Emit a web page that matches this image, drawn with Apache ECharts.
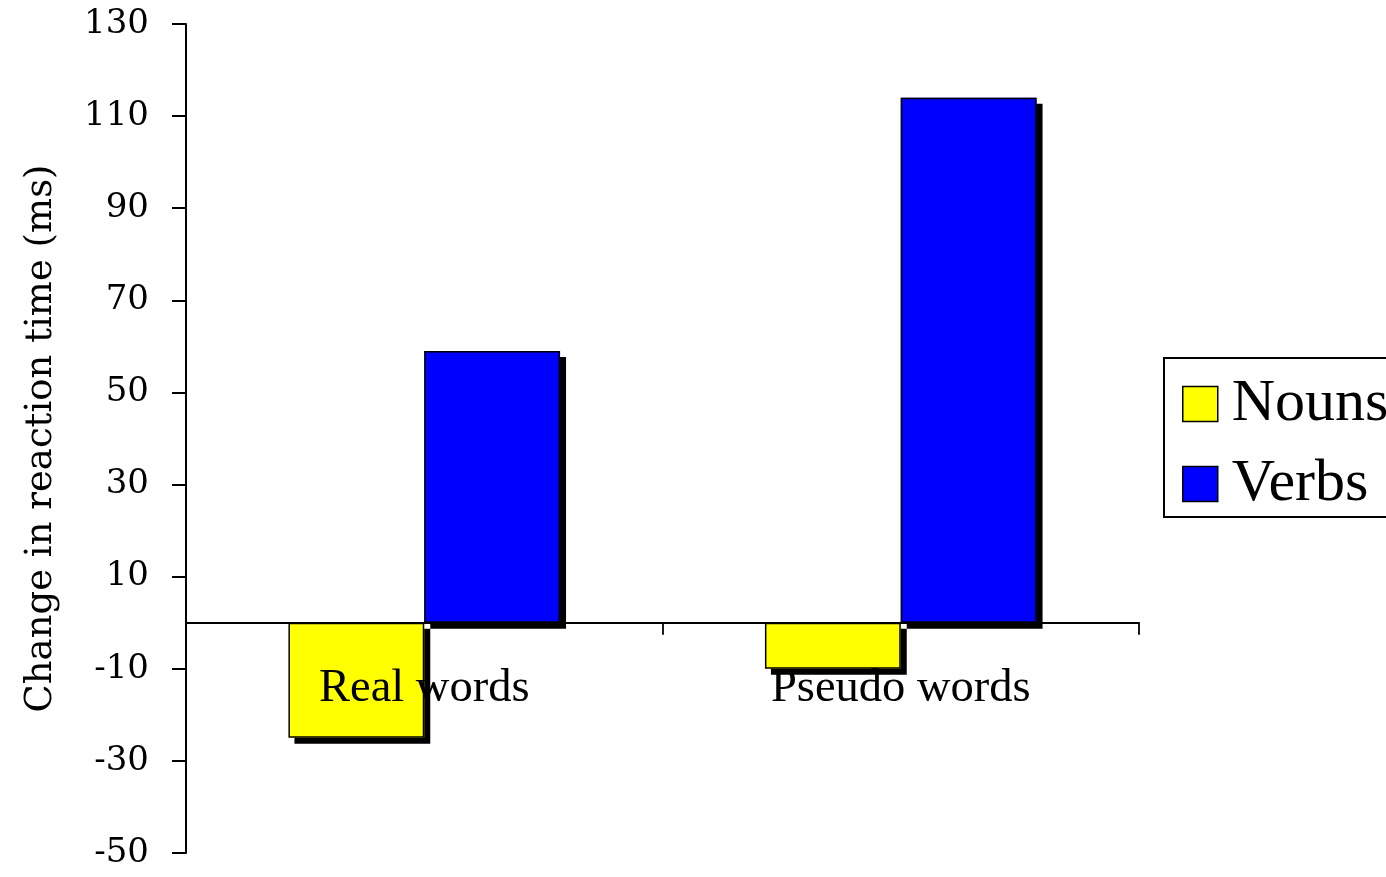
<!DOCTYPE html>
<html>
<head>
<meta charset="utf-8">
<script src="https://cdn.jsdelivr.net/npm/echarts@6/dist/echarts.min.js"></script>
<style>html,body{margin:0;padding:0;background:#fff;}#c{width:1386px;height:877px;}</style>
</head>
<body>
<div id="c"></div>
<script>
const categories = ['Real words', 'Pseudo words'];
const nouns = [-25, -10];
const verbs = [59, 114];
const yTicks = { min: -50, max: 130, interval: 20 };
const axisTitle = 'Change in reaction time (ms)';

const chart = echarts.init(document.getElementById('c'), null, { renderer: 'canvas' });
const shadowStyle = (color) => ({
  color: color, borderWidth: 0,
  shadowColor: '#000', shadowBlur: 0, shadowOffsetX: 6, shadowOffsetY: 6
});
const borderStyle = (color) => ({
  color: color, borderColor: '#000', borderWidth: 1.5
});
const common = { type: 'bar', barGap: '0%', barCategoryGap: '43%' };
chart.setOption({
  animation: false,
  backgroundColor: '#fff',
  grid: { left: 186, right: 247, top: 24, bottom: 24, containLabel: false, outerBoundsMode: 'none' },
  legend: {
    orient: 'vertical',
    left: 1164, top: 358,
    padding: [16, 200, 3, 18],
    itemWidth: 35, itemHeight: 35, itemGap: 20,
    borderColor: '#000', borderWidth: 2,
    icon: 'rect',
    itemStyle: { borderColor: '#000', borderWidth: 1.5, shadowColor: 'rgba(0,0,0,0)', shadowOffsetX: 0, shadowOffsetY: 0 },
    textStyle: { fontFamily: 'Liberation Serif', fontSize: 60, color: '#000', lineHeight: 60, padding: [0, 0, 0, 9] },
    data: ['Nouns', 'Verbs']
  },
  xAxis: [{
    type: 'category',
    data: categories,
    z: 10,
    axisLine: { onZero: true, lineStyle: { color: '#000', width: 1.8 } },
    axisTick: { show: true, inside: false, length: 12, lineStyle: { color: '#000', width: 1.8 } },
    axisLabel: { margin: -190, fontFamily: 'Liberation Serif', fontSize: 46.5, color: '#000', lineHeight: 52 }
  }, {
    type: 'category',
    data: categories,
    show: false
  }],
  yAxis: {
    type: 'value',
    min: yTicks.min, max: yTicks.max, interval: yTicks.interval,
    name: axisTitle,
    nameLocation: 'middle',
    nameRotate: 90,
    nameGap: 126,
    nameTextStyle: { fontFamily: 'DejaVu Serif', fontSize: 37, color: '#000' },
    splitLine: { show: false },
    axisLine: { show: true, lineStyle: { color: '#000', width: 2 } },
    axisTick: { show: true, inside: false, length: 14, lineStyle: { color: '#000', width: 2 } },
    axisLabel: { margin: 37, fontFamily: 'DejaVu Serif', fontSize: 34, color: '#000' }
  },
  series: [
    Object.assign({ name: 'Nouns', data: nouns, xAxisIndex: 0, z: 2, itemStyle: shadowStyle('#FFFF00') }, common),
    Object.assign({ name: 'Verbs', data: verbs, xAxisIndex: 0, z: 2, itemStyle: shadowStyle('#0000FF') }, common),
    Object.assign({ name: 'Nouns ', data: nouns, xAxisIndex: 1, z: 3, itemStyle: borderStyle('#FFFF00') }, common),
    Object.assign({ name: 'Verbs ', data: verbs, xAxisIndex: 1, z: 3, itemStyle: borderStyle('#0000FF') }, common)
  ]
});
</script>
</body>
</html>
